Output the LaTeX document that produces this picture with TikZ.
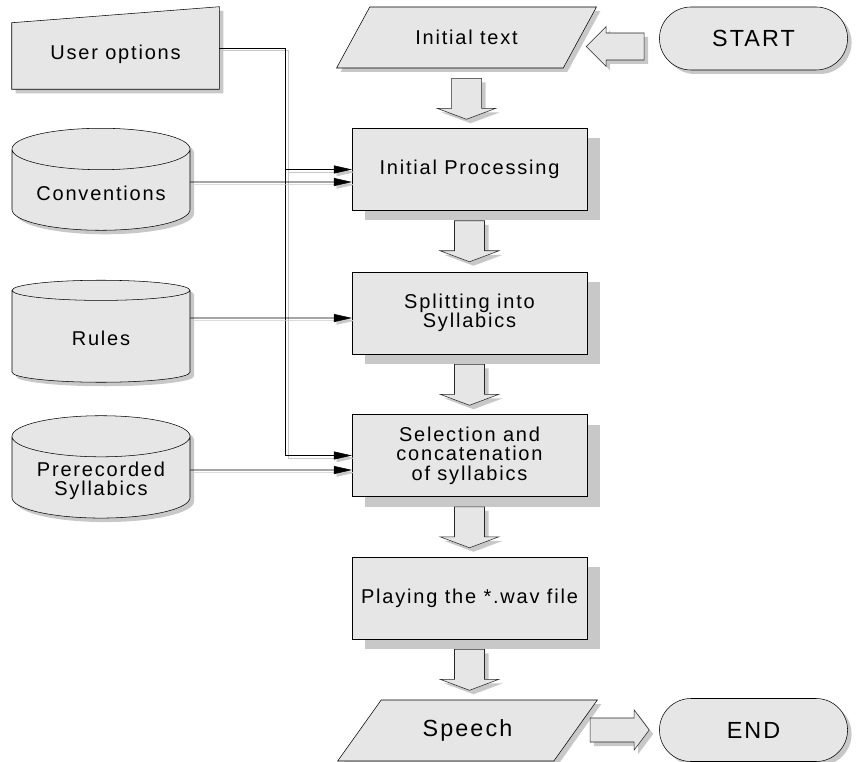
\documentclass[tikz,border=0pt]{standalone}
\usepackage{fontspec}
\setmainfont[LetterSpace=9]{Liberation Sans}
\usepackage{tikz}
\usetikzlibrary{arrows.meta,calc,backgrounds,shapes.geometric,shapes.misc,shadows}
\definecolor{boxgray}{HTML}{E6E6E6}
\definecolor{shdgray}{HTML}{C8C8C8}

\begin{document}
\begin{tikzpicture}[x=0.75pt, y=-0.75pt,
  every node/.style={font=\fontsize{15}{14.5}\selectfont},
  big/.style={font=\fontsize{17.5}{20}\selectfont},
  shd/.style={drop shadow={shadow xshift=3pt, shadow yshift=-3pt, fill=shdgray, opacity=1}},
  proc/.style={draw, fill=boxgray, align=center, minimum width=176pt, minimum height=61.5pt, inner sep=2pt,
               drop shadow={shadow xshift=9.75pt, shadow yshift=-7.5pt, fill=shdgray, opacity=1}},
  io/.style={trapezium, trapezium left angle=51, trapezium right angle=129, trapezium stretches=true,
             draw, fill=boxgray, minimum width=195pt, minimum height=45.75pt, shd},
  db/.style={cylinder, shape border rotate=90, aspect=0.3, draw, fill=boxgray, align=center,
             minimum width=133.5pt, minimum height=76.5pt, shd},
  term/.style={rounded rectangle, draw, fill=boxgray, minimum width=147.75pt, minimum height=47.25pt, big, shd},
  blk/.style={draw=black!85, fill=boxgray, shd},
  arr/.style={-{Triangle[length=13.5pt,width=6pt]},
              preaction={draw=shdgray, transform canvas={shift={(2pt,-2pt)}}}}
]
\useasboundingbox (0,0) rectangle (862,762);

\node[io] (itext) at (466.5,37.5) {Initial text};
\node[term] (start) at (753.5,38.5) {START};
\node[proc] (iproc) at (469.5,169.5) {Initial Processing};
\node[proc] (split) at (469.5,313) {Splitting into\\Syllabics};
\node[proc] (sel) at (469.5,455.5) {Selection and\\concatenation\\of syllabics};
\node[proc] (play) at (469.5,598) {Playing the *.wav file};
\node[io, big] (speech) at (467.5,730.5) {Speech};
\node[term] (stop) at (753.5,730) {END};

\node[minimum width=155.25pt, minimum height=52.5pt] (user) at (115.5,54) {User options};
\begin{scope}[on background layer]
\draw[fill=boxgray, shd] (user.south west) -- (user.south east) -- ($(user.north east)+(0,-12)$) -- ($(user.north west)+(0,4)$) -- cycle;
\end{scope}
\node[db] (conv) at (101,193) {Conventions};
\node[db] (rules) at (101,338) {Rules};
\node[db] (prerec) at (101,480.5) {Prerecorded\\Syllabics};

\draw[arr] ($(user.east)+(0,-6)$) -- ++(66,0) coordinate (bus) |- (sel.west);
\draw[arr] (bus |- iproc.west) -- (iproc.west);
\draw[arr] ($(conv.east)+(0,-11)$) -- ($(iproc.west)+(0,12.5)$);
\draw[arr] ($(rules.east)+(0,-20)$) -- ($(split.west)+(0,5)$);
\draw[arr] ($(prerec.east)+(0,-10.5)$) -- ($(sel.west)+(0,14.5)$);

\draw[blk] ($(start.west)+(-73,8)$) -- ++(20,-20) -- ++(0,6.5) -- ++(38,0) -- ++(0,27) -- ++(-38,0) -- ++(0,6.5) -- cycle;
\foreach \s in {itext,iproc,split,sel,play}
  \draw[blk] ($(\s.south)+(-15,10)$) -- ++(30,0) -- ++(0,30) -- ++(14.5,0) -- ++(-29.5,11) -- ++(-29.5,-11) -- ++(14.5,0) -- cycle;
\draw[blk] ($(stop.west)+(-10,0)$) -- ++(-15,-20) -- ++(0,8) -- ++(-44,0) -- ++(0,24) -- ++(44,0) -- ++(0,8) -- cycle;
\end{tikzpicture}
\end{document}
